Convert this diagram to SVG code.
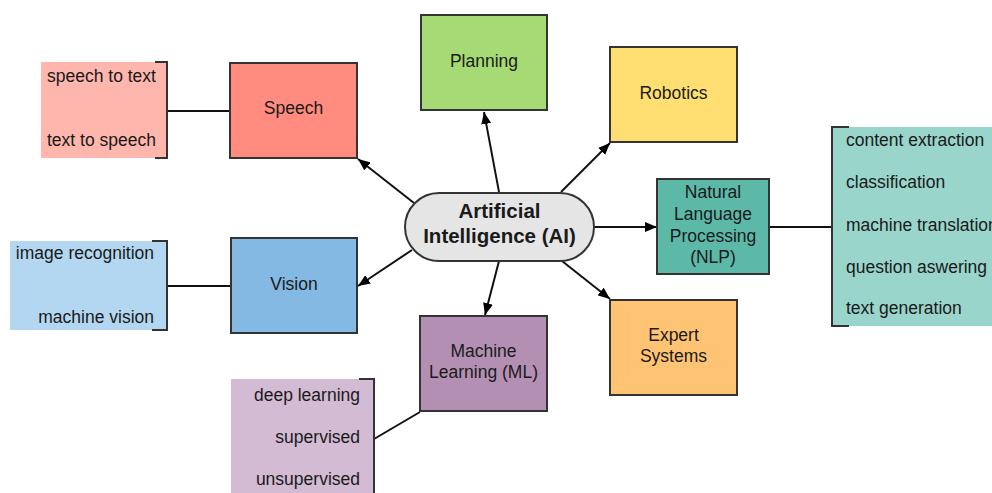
<svg xmlns="http://www.w3.org/2000/svg" width="992" height="493" viewBox="0 0 992 493">
<defs>
<style>
text{font-family:"Liberation Sans",Arial,sans-serif;font-size:17.5px;fill:#1a1a1a}
.c{text-anchor:middle}
.e{text-anchor:end}
.box{stroke:#333;stroke-width:2}
.br{fill:none;stroke:#333;stroke-width:2}
.ln{stroke:#111;stroke-width:2;fill:none}
.ar{stroke:#111;stroke-width:2;fill:none;marker-end:url(#ah)}
.t{font-weight:bold;font-size:20.5px}
</style>
<marker id="ah" viewBox="0 0 12 10" refX="12" refY="5" markerWidth="12" markerHeight="10" markerUnits="userSpaceOnUse" orient="auto">
<path d="M0,0 L12,5 L0,10 z" fill="#000"/>
</marker>
</defs>
<rect width="992" height="493" fill="#fff"/>
<g id="connectors">
<line class="ar" x1="414" y1="203" x2="358" y2="159"/>
<line class="ar" x1="412" y1="250" x2="358" y2="286"/>
<line class="ar" x1="499" y1="192" x2="484" y2="112"/>
<line class="ar" x1="561" y1="192" x2="610" y2="143"/>
<line class="ar" x1="594" y1="227" x2="657" y2="227"/>
<line class="ar" x1="562" y1="261" x2="610" y2="299"/>
<line class="ar" x1="499" y1="261" x2="485" y2="315"/>
<line class="ln" x1="167" y1="111" x2="230" y2="111"/>
<line class="ln" x1="167" y1="286" x2="230" y2="286"/>
<line class="ln" x1="374" y1="439" x2="420" y2="412"/>
<line class="ln" x1="769" y1="227" x2="832" y2="227"/>
</g>
<g id="ai">
<rect x="405" y="193" width="189" height="68" rx="34" ry="34" fill="#e5e5e5" stroke="#333" stroke-width="2"/>
<text class="c t" x="499.5" y="218">Artificial</text>
<text class="c t" x="499.5" y="243">Intelligence (AI)</text>
</g>
<g id="speech">
<rect class="box" x="230" y="63" width="127" height="95" fill="#ff8c7e"/>
<text class="c" x="293.5" y="114">Speech</text>
</g>
<g id="speech-items">
<rect x="41" y="62" width="126" height="96" fill="#ffb6ad"/>
<path class="br" d="M155,62 H167 V158 H155"/>
<text x="47" y="82">speech to text</text>
<text x="47" y="146">text to speech</text>
</g>
<g id="planning">
<rect class="box" x="421" y="15" width="126" height="95" fill="#a6da74"/>
<text class="c" x="484" y="67">Planning</text>
</g>
<g id="robotics">
<rect class="box" x="610" y="47" width="127" height="95" fill="#ffdf71"/>
<text class="c" x="673.5" y="99">Robotics</text>
</g>
<g id="nlp">
<rect class="box" x="657" y="179" width="112" height="95" fill="#5cb9a7"/>
<text class="c" x="713" y="198">Natural</text>
<text class="c" x="713" y="220">Language</text>
<text class="c" x="713" y="241.5">Processing</text>
<text class="c" x="713" y="263">(NLP)</text>
</g>
<g id="nlp-items">
<rect x="832" y="127" width="162" height="199" fill="#99d5ca"/>
<path class="br" d="M849,127 H832 V326 H849"/>
<text x="846" y="146">content extraction</text>
<text x="846" y="188">classification</text>
<text x="846" y="231">machine translation</text>
<text x="846" y="273">question aswering</text>
<text x="846" y="314">text generation</text>
</g>
<g id="expert">
<rect class="box" x="610" y="300" width="127" height="95" fill="#ffc374"/>
<text class="c" x="673.5" y="341">Expert</text>
<text class="c" x="673.5" y="362">Systems</text>
</g>
<g id="vision">
<rect class="box" x="231" y="238" width="126" height="95" fill="#83b9e3"/>
<text class="c" x="294" y="290">Vision</text>
</g>
<g id="vision-items">
<rect x="10" y="241" width="157" height="89" fill="#b3d7f1"/>
<path class="br" d="M152,241 H167 V330 H152"/>
<text class="e" x="154" y="259">image recognition</text>
<text class="e" x="154" y="323">machine vision</text>
</g>
<g id="ml">
<rect class="box" x="420" y="316" width="127" height="95" fill="#b390b3"/>
<text class="c" x="483.5" y="357">Machine</text>
<text class="c" x="483.5" y="378">Learning (ML)</text>
</g>
<g id="ml-items">
<rect x="231" y="379" width="143" height="120" fill="#d3bbd3"/>
<path class="br" d="M359,379 H374 V500"/>
<text class="e" x="360" y="401">deep learning</text>
<text class="e" x="360" y="443">supervised</text>
<text class="e" x="360" y="485">unsupervised</text>
</g>
</svg>
